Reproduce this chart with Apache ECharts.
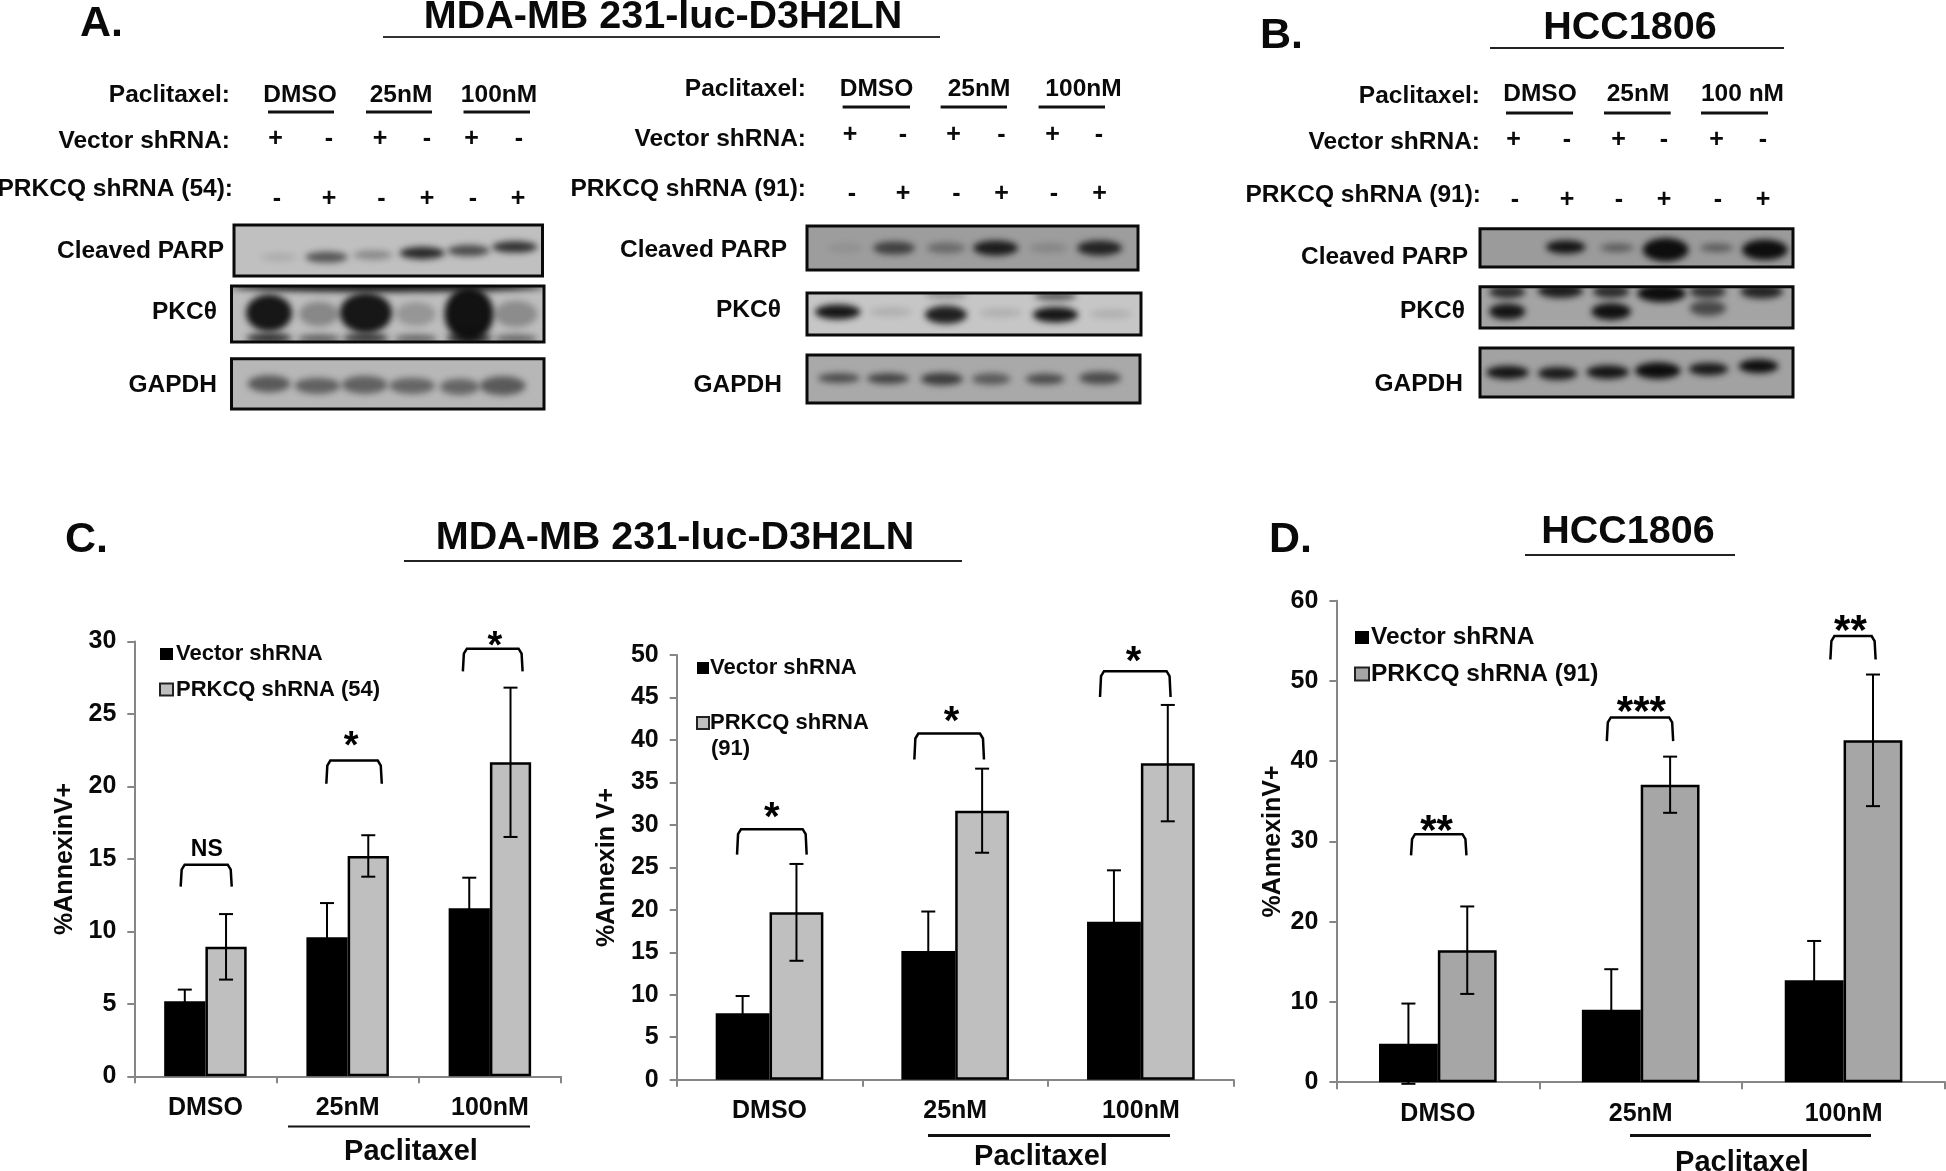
<!DOCTYPE html>
<html><head><meta charset="utf-8">
<style>html,body{margin:0;padding:0;background:#fff}#c{width:1946px;height:1171px}</style>
<script src="https://cdn.jsdelivr.net/npm/echarts@6/dist/echarts.min.js"></script>
</head><body><div id="c"></div>
<script>
// ---------- bar chart data ----------
const doseCategories = ['DMSO', '25nM', '100nM'];
const vector54 = [5.18, 9.6, 11.6];
const vector54Err = [0.8, 2.35, 2.1];
const prkcq54 = [8.93, 15.2, 21.66];
const prkcq54Err = [2.26, 1.43, 5.15];
const vector91 = [7.83, 15.15, 18.6];
const vector91Err = [2.02, 4.65, 6.05];
const prkcq91 = [19.7, 31.67, 37.27];
const prkcq91Err = [5.7, 4.95, 6.85];
const vectorHcc = [4.8, 9.03, 12.7];
const vectorHccErr = [5.0, 5.05, 4.9];
const prkcqHcc = [16.45, 37.07, 42.6];
const prkcqHccErr = [5.45, 3.5, 8.2];
// brackets: [left, right, foot, top, markX, markY] in category units and axis value
const brackets54 = [[0.326,0.685,13.08,14.6,0.51,15.6],[1.35,1.74,20.18,21.78,1.525,23.2],[2.31,2.73,27.93,29.5,2.535,30.1]];
const marks54 = ['NS','*','*'];
const brackets91 = [[0.325,0.70,26.5,29.5,0.512,31.6],[1.28,1.655,37.7,40.76,1.48,42.9],[2.28,2.66,45.05,48.1,2.46,50]];
const marks91 = ['*','*','*'];
const bracketsHcc = [[0.368,0.641,28.26,30.9,0.494,32.1],[1.333,1.66,42.5,45.46,1.503,47],[2.435,2.658,52.67,55.6,2.534,57.1]];
const marksHcc = ['**','***','**'];
// ---------- blot bands: [lane %, height %, darkness, width %, thickness %] ----------
const parp54 = [[14.5,63,.1,11,12],[30,63,.6,13,17],[45,59,.3,12,14],[61,55,.85,14,20],[76,50,.65,13,18],[91,43,.8,14,18]];
const pkc54 = [[50,2,.95,100,14],[12,48,.95,14,62],[28,50,.3,12,40],[43,48,.95,16,68],[59,50,.22,12,38],[76,50,.98,15,92],[91,50,.28,13,44],
  [12,93,.8,14,14],[28,94,.55,13,10],[43,93,.75,14,14],[59,94,.5,13,10],[76,93,.85,14,14],[91,94,.5,13,10]];
const gapdh54 = [[12,50,.55,13,30],[27.5,54,.5,14,28],[42.6,52,.5,14,32],[57.8,54,.48,14,28],[73,56,.48,12,28],[86.8,54,.55,14,34]];
const parp91 = [[11.5,50,.08,10,16],[26.3,50,.65,12,25],[42,50,.35,11,20],[57,50,.9,13,30],[73,50,.15,11,18],[88.4,50,.85,13,30]];
const pkc91 = [[9.2,45,.95,13,30],[25,45,.12,12,16],[41.6,52,.9,12,38],[58,47,.12,12,16],[74.4,52,.95,13,32],[91,50,.12,12,16],[74.4,7,.55,12,18],[41.6,5,.3,12,12]];
const gapdh91 = [[9.6,48,.6,12,16],[24.3,49,.65,12,18],[40.5,50,.7,12,22],[55.3,50,.5,11,20],[71.5,50,.6,11,18],[88,48,.6,12,22]];
const parpHcc = [[27.4,48,.95,12,30],[43.8,50,.45,10,16],[59.3,55,1,14,56],[75.6,50,.45,10,16],[91,55,1,14,48]];
const pkcHcc = [[8.7,13,.8,11,26],[25.7,10,.9,14,30],[41.9,12,.8,11,26],[58,16,1,15,38],[72.8,12,.75,11,26],[90,12,.85,13,28],[8.7,60,.95,11,34],[41.9,60,.98,12,36],[72.8,52,.6,11,32]];
const gapdhHcc = [[8.8,50,.95,13,23],[24.8,52,.92,12,22],[40.8,49,.95,13,24],[56.8,46,1,14,30],[73,43,.92,12,22],[89,37,1,12,24]];
const plusMinusVector = ['+','-','+','-','+','-'];
const plusMinusPrkcq = ['-','+','-','+','-','+'];

const FONT = '"Liberation Sans", Arial, sans-serif';
const INK = '#0a0a0a';

// ---------- panels ----------
const chartDefs = [
 {rect:[134.3,641.4,426.7,434.9],max:30,step:5,vec:vector54,vecE:vector54Err,pr:prkcq54,prE:prkcq54Err,prName:'PRKCQ shRNA (54)',color:'#bfbfbf',yName:'%AnnexinV+',gap:57,br:brackets54,mk:marks54,starFont:38,
  legend:{left:159,top:643,itemGap:13.5,size:22,w:13,h:12,pad:-2}},
 {rect:[676.7,655,557,424.7],max:50,step:5,vec:vector91,vecE:vector91Err,pr:prkcq91,prE:prkcq91Err,prName:'PRKCQ shRNA (91)',color:'#bfbfbf',yName:'%Annexin V+',gap:57,br:brackets91,mk:marks91,starFont:40,
  legend:{left:696,top:657,itemGap:33,size:22,w:12,h:12,pad:-4,strip:true}},
 {rect:[1336.4,600.7,608.6,481.5],max:60,step:10,vec:vectorHcc,vecE:vectorHccErr,pr:prkcqHcc,prE:prkcqHccErr,prName:'PRKCQ shRNA (91)',color:'#a6a6a6',yName:'%AnnexinV+',gap:51,br:bracketsHcc,mk:marksHcc,starFont:42,
  legend:{left:1354,top:625,itemGap:11.5,size:24.5,w:14,h:13,pad:-3}}
];
const blotDefs = [
 [234,225,308.5,51,'#c0c0c0',parp54],[231.5,286,312.5,56,'#bdbdbd',pkc54],[231.5,358.7,312.5,50.3,'#b7b7b7',gapdh54],
 [807,226,331,44,'#9d9d9d',parp91],[807,293,334,42,'#c6c6c6',pkc91],[807,355,333,48,'#a9a9a9',gapdh91],
 [1480,228.7,313,38.3,'#9b9b9b',parpHcc],[1480,286.7,313,41.3,'#a4a4a4',pkcHcc],[1480,348,313,49,'#a2a2a2',gapdhHcc]
];

const grid=[],xAxis=[],yAxis=[],series=[],legend=[];
chartDefs.forEach((d,i)=>{
  grid.push({left:d.rect[0],top:d.rect[1],width:d.rect[2],height:d.rect[3]});
  const axisLine={show:true,lineStyle:{color:'#868686',width:2}};
  const axisTick={show:true,length:7,lineStyle:{color:'#868686',width:2}};
  xAxis.push({type:'category',gridIndex:i,data:doseCategories,axisLine,axisTick,
    axisLabel:{fontFamily:FONT,fontWeight:'bold',fontSize:25,color:INK,margin:19}});
  xAxis.push({type:'value',gridIndex:i,min:0,max:3,show:false});
  yAxis.push({type:'value',gridIndex:i,min:0,max:d.max,interval:d.step,splitLine:{show:false},axisLine,axisTick,
    axisLabel:{fontFamily:FONT,fontWeight:'bold',fontSize:25,color:INK,margin:18},
    name:d.yName,nameLocation:'middle',nameGap:d.gap,nameRotate:90,nameTextStyle:{fontFamily:FONT,fontWeight:'bold',fontSize:25,color:INK}});
  const xc=i*2,xv=i*2+1;
  series.push({name:'Vector shRNA',type:'bar',xAxisIndex:xc,yAxisIndex:i,data:d.vec,barWidth:'29%',barGap:'0%',itemStyle:{color:'#000'},z:2});
  series.push({name:d.prName,type:'bar',xAxisIndex:xc,yAxisIndex:i,data:d.pr,barWidth:'29%',barGap:'0%',itemStyle:{color:d.color,borderColor:'#000',borderWidth:2.5},z:2});
  const errData=[...d.vec.map((m,k)=>[k+0.5-0.145,m,d.vecE[k]]),...d.pr.map((m,k)=>[k+0.5+0.145,m,d.prE[k]])];
  series.push({type:'custom',xAxisIndex:xv,yAxisIndex:i,data:errData,encode:{x:0,y:1},z:5,silent:true,
    renderItem(p,api){
      const x=api.value(0),m=api.value(1),e=api.value(2);
      const a=api.coord([x,m+e]),b=api.coord([x,m-e]);
      const st={stroke:'#000',lineWidth:2};
      return {type:'group',children:[
        {type:'line',shape:{x1:a[0],y1:a[1],x2:b[0],y2:b[1]},style:st},
        {type:'line',shape:{x1:a[0]-7,y1:a[1],x2:a[0]+7,y2:a[1]},style:st},
        {type:'line',shape:{x1:b[0]-7,y1:b[1],x2:b[0]+7,y2:b[1]},style:st}]};
    }});
  series.push({type:'custom',xAxisIndex:xv,yAxisIndex:i,data:d.br,encode:{x:0,y:2},z:6,silent:true,
    renderItem(p,api){
      const L=api.coord([api.value(0),api.value(2)]),R=api.coord([api.value(1),api.value(2)]);
      const T=api.coord([api.value(0),api.value(3)])[1];
      const M=api.coord([api.value(4),api.value(5)]);
      const mark=d.mk[p.dataIndex],isStar=mark[0]==='*';
      const fs=isStar?d.starFont:23;
      return {type:'group',children:[
        {type:'polyline',shape:{points:[[L[0],L[1]],[L[0]+1,T+5],[L[0]+4,T],[R[0]-4,T],[R[0]-1,T+5],[R[0],R[1]]]},style:{stroke:'#000',lineWidth:2.5,fill:null}},
        {type:'text',style:{text:mark,x:M[0],y:M[1]+(isStar?fs*0.19:0),textAlign:'center',textVerticalAlign:'middle',font:`bold ${fs}px ${FONT}`,fill:'#000'}}]};
    }});
  const lg=d.legend;
  legend.push({left:lg.left,top:lg.top,orient:'vertical',icon:'rect',itemWidth:lg.w,itemHeight:lg.h,itemGap:lg.itemGap,selectedMode:false,
    textStyle:{fontFamily:FONT,fontWeight:'bold',fontSize:lg.size,color:INK,padding:[0,0,0,lg.pad]},padding:0,
    formatter:lg.strip?(n=>n.replace(' (91)','')):undefined,
    data:[{name:'Vector shRNA',itemStyle:{color:'#000',borderWidth:0}},{name:d.prName,itemStyle:{color:d.color,borderColor:'#222',borderWidth:2}}]});
});
blotDefs.forEach((b,k)=>{
  const g=chartDefs.length+k,ax=chartDefs.length*2+k,ay=chartDefs.length+k;
  grid.push({left:b[0],top:b[1],width:b[2],height:b[3],show:true,backgroundColor:b[4],borderColor:'#0a0a0a',borderWidth:3});
  xAxis.push({type:'value',gridIndex:g,min:0,max:100,show:false});
  yAxis.push({type:'value',gridIndex:g,min:0,max:100,inverse:true,show:false});
  series.push({type:'custom',xAxisIndex:ax,yAxisIndex:ay,data:b[5],encode:{x:0,y:1},silent:true,z:3,
    renderItem(p,api){
      const c=api.coord([api.value(0),api.value(1)]);
      const s=api.size([api.value(3),api.value(4)]);
      const cs=p.coordSys,away=4000;
      // only the blurred shadow lands inside the clip, which gives the soft edge of a film band
      return {type:'ellipse',shape:{cx:c[0]-away,cy:c[1],rx:Math.abs(s[0])/2+1,ry:Math.abs(s[1])/2+1},
        style:{fill:'#000',shadowBlur:6,shadowOffsetX:away,shadowColor:`rgba(14,14,14,${api.value(2)})`},
        clipPath:{type:'rect',shape:{x:cs.x+1,y:cs.y+1,width:cs.width-2,height:cs.height-2}}};
    }});
});

// ---------- text and rules ----------
const g=[];
const S=24.5;
function T(text,x,y,size,align){g.push({type:'text',z:20,silent:true,style:{text,x,y:y+2,textAlign:align||'center',textVerticalAlign:'middle',font:`bold ${size||S}px ${FONT}`,fill:INK}});}
function U(x1,x2,y,w,col){g.push({type:'line',z:20,silent:true,shape:{x1,y1:y,x2,y2:y},style:{stroke:col||'#111',lineWidth:w||2}});}
function row(arr,xs,y){arr.forEach((s,i)=>T(s,xs[i],y,25));}

T('A.',80,22,43,'left');T('B.',1260,34,43,'left');T('C.',65,538,43,'left');T('D.',1269,538,43,'left');
T('MDA-MB 231-luc-D3H2LN',663,15,39.5);U(383,940,37,2,'#333');
T('HCC1806',1630,26,39.5);U(1490,1784,48,2,'#222');
T('MDA-MB 231-luc-D3H2LN',675,536,39.5);U(404,962,561,2,'#222');
T('HCC1806',1628,530,39.5);U(1525,1735,555,2,'#222');

// panel A, shRNA 54
T('Paclitaxel:',230,93,S,'right');T('DMSO',300,93);T('25nM',401,93);T('100nM',499,93);
U(268,334,112,3);U(366,432,112,3);U(463.5,530,112,3);
T('Vector shRNA:',230,139,S,'right');row(plusMinusVector,[275.6,329,380,427,471.5,519],137);
T('PRKCQ shRNA (54):',233,187,S,'right');row(plusMinusPrkcq,[277,329,381.5,427,473,518],197);
T('Cleaved PARP',224,249,S,'right');T('PKCθ',217,310,S,'right');T('GAPDH',217,383,S,'right');
// panel A, shRNA 91
T('Paclitaxel:',806,87,S,'right');T('DMSO',876.5,87);T('25nM',979,87);T('100nM',1083.5,87);
U(842.6,910,107,3);U(940.6,1007,107,3);U(1038.6,1105,107,3);
T('Vector shRNA:',806,137,S,'right');row(plusMinusVector,[850,903,953.5,1001.5,1052.5,1099],133);
T('PRKCQ shRNA (91):',806,187,S,'right');row(plusMinusPrkcq,[852,903,956.5,1001.5,1054,1099.6],192);
T('Cleaved PARP',787,248,S,'right');T('PKCθ',781,308,S,'right');T('GAPDH',782,383,S,'right');
// panel B
T('Paclitaxel:',1480,94,S,'right');T('DMSO',1540,92);T('25nM',1638,92);T('100 nM',1742.5,92);
U(1506,1573,113,3);U(1604,1670.7,113,3);U(1701,1768,113,3);
T('Vector shRNA:',1480,140.7,S,'right');row(plusMinusVector,[1513.5,1567,1618.5,1664,1716.6,1763],138);
T('PRKCQ shRNA (91):',1481,193,S,'right');row(plusMinusPrkcq,[1515,1567,1619,1664,1718,1763],198);
T('Cleaved PARP',1468,255,S,'right');T('PKCθ',1465,309,S,'right');T('GAPDH',1463,382,S,'right');

// below the bar charts
T('Paclitaxel',411,1150,29);U(288,530,1126.5,2);
T('Paclitaxel',1041,1155,29);U(928,1170,1135.4,3);
T('Paclitaxel',1742,1161,29);U(1630,1871,1135.4,3);
T('(91)',711,747,22,'left');

const chart=echarts.init(document.getElementById('c'),null,{renderer:'canvas'});
chart.setOption({animation:false,backgroundColor:'#fff',grid,xAxis,yAxis,series,legend,graphic:{elements:g}});
</script></body></html>
